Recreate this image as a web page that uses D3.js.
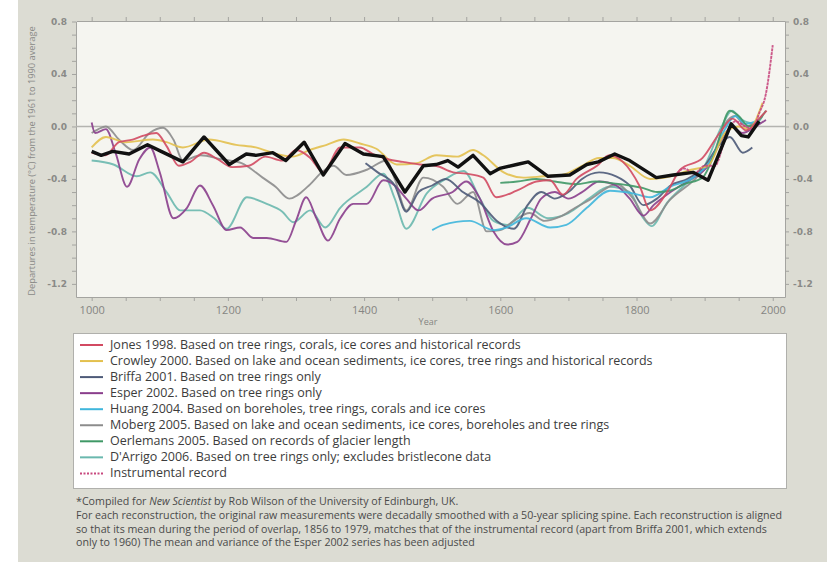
<!DOCTYPE html>
<html><head><meta charset="utf-8">
<script src="https://cdn.jsdelivr.net/npm/d3@7"></script>
<style>body{margin:0;background:#fff}svg{display:block}</style>
</head><body>
<script>
// ---------- DATA (year, departure °C) ----------
const jones = [[1000,-0.20],[1020,-0.22],[1040,-0.12],[1060,-0.10],[1076,-0.07],[1095,-0.05],[1110,-0.15],[1128,-0.30],[1145,-0.27],[1165,-0.20],[1185,-0.25],[1206,-0.31],[1231,-0.30],[1255,-0.23],[1280,-0.26],[1300,-0.18],[1321,-0.24],[1340,-0.35],[1365,-0.16],[1394,-0.16],[1413,-0.21],[1435,-0.25],[1457,-0.27],[1482,-0.29],[1505,-0.30],[1531,-0.35],[1550,-0.36],[1575,-0.39],[1594,-0.54],[1624,-0.49],[1653,-0.42],[1673,-0.41],[1692,-0.52],[1712,-0.40],[1742,-0.30],[1760,-0.22],[1780,-0.27],[1805,-0.46],[1820,-0.64],[1845,-0.50],[1864,-0.33],[1897,-0.24],[1922,-0.05],[1941,0.06],[1961,-0.03],[1980,0.06],[1991,0.12]];
const crowley = [[1000,-0.16],[1021,-0.08],[1050,-0.12],[1090,-0.10],[1110,-0.12],[1134,-0.16],[1172,-0.10],[1212,-0.14],[1241,-0.16],[1271,-0.21],[1295,-0.23],[1320,-0.18],[1345,-0.14],[1370,-0.10],[1394,-0.13],[1418,-0.17],[1448,-0.29],[1477,-0.28],[1506,-0.22],[1537,-0.23],[1560,-0.18],[1575,-0.22],[1605,-0.35],[1634,-0.39],[1663,-0.38],[1690,-0.37],[1720,-0.30],[1745,-0.24],[1765,-0.24],[1790,-0.30],[1820,-0.40],[1850,-0.38],[1880,-0.33],[1905,-0.30],[1930,-0.05],[1950,0.00],[1965,-0.02],[1985,0.18]];
const briffa = [[1402,-0.28],[1420,-0.35],[1445,-0.45],[1462,-0.65],[1480,-0.50],[1500,-0.45],[1520,-0.40],[1545,-0.50],[1570,-0.58],[1595,-0.72],[1620,-0.78],[1640,-0.60],[1660,-0.50],[1680,-0.55],[1700,-0.50],[1720,-0.40],[1745,-0.35],[1770,-0.38],[1790,-0.45],[1810,-0.60],[1830,-0.55],[1850,-0.45],[1875,-0.40],[1900,-0.30],[1920,-0.15],[1937,-0.08],[1956,-0.20],[1970,-0.16]];
const esper = [[1000,0.03],[1005,-0.05],[1021,-0.02],[1035,-0.20],[1052,-0.46],[1070,-0.25],[1086,-0.16],[1100,-0.35],[1120,-0.70],[1140,-0.62],[1159,-0.45],[1178,-0.60],[1198,-0.79],[1218,-0.77],[1237,-0.85],[1257,-0.85],[1286,-0.88],[1300,-0.72],[1315,-0.54],[1330,-0.70],[1347,-0.87],[1365,-0.70],[1384,-0.59],[1404,-0.59],[1428,-0.41],[1445,-0.45],[1462,-0.55],[1480,-0.64],[1500,-0.55],[1530,-0.50],[1550,-0.42],[1570,-0.55],[1590,-0.80],[1610,-0.90],[1625,-0.88],[1645,-0.70],[1660,-0.55],[1680,-0.50],[1700,-0.55],[1720,-0.50],[1745,-0.42],[1770,-0.45],[1790,-0.55],[1810,-0.68],[1825,-0.60],[1850,-0.50],[1880,-0.40],[1905,-0.30],[1925,-0.10],[1940,0.00],[1955,-0.05],[1975,0.00],[1990,0.05]];
const huang = [[1500,-0.79],[1516,-0.75],[1555,-0.72],[1590,-0.79],[1609,-0.77],[1638,-0.70],[1673,-0.77],[1697,-0.75],[1727,-0.62],[1761,-0.49],[1795,-0.51],[1820,-0.54],[1849,-0.46],[1883,-0.39],[1910,-0.25],[1930,-0.02],[1945,0.08],[1960,0.02],[1980,0.05]];
const moberg = [[1000,-0.05],[1010,-0.02],[1021,0.00],[1040,-0.10],[1061,-0.18],[1085,-0.05],[1105,-0.01],[1120,-0.10],[1134,-0.26],[1160,-0.22],[1190,-0.25],[1220,-0.28],[1251,-0.39],[1270,-0.46],[1290,-0.55],[1319,-0.45],[1340,-0.34],[1355,-0.30],[1374,-0.37],[1404,-0.33],[1433,-0.26],[1445,-0.40],[1462,-0.64],[1487,-0.39],[1516,-0.46],[1537,-0.59],[1560,-0.50],[1580,-0.80],[1600,-0.79],[1620,-0.72],[1643,-0.66],[1665,-0.72],[1687,-0.69],[1710,-0.62],[1731,-0.56],[1771,-0.44],[1795,-0.55],[1820,-0.74],[1849,-0.56],[1888,-0.39],[1910,-0.25],[1930,0.02],[1945,0.08],[1960,0.00],[1979,0.05]];
const oerlemans = [[1600,-0.43],[1625,-0.42],[1653,-0.40],[1680,-0.42],[1712,-0.44],[1740,-0.42],[1761,-0.43],[1790,-0.45],[1810,-0.47],[1830,-0.50],[1849,-0.49],[1870,-0.44],[1897,-0.39],[1915,-0.20],[1937,0.12],[1950,0.08],[1965,0.00],[1980,0.05],[1990,0.12]];
const darrigo = [[1000,-0.26],[1032,-0.29],[1066,-0.38],[1086,-0.35],[1110,-0.50],[1130,-0.64],[1159,-0.64],[1180,-0.70],[1198,-0.78],[1228,-0.54],[1257,-0.59],[1280,-0.65],[1296,-0.73],[1321,-0.64],[1343,-0.77],[1365,-0.62],[1404,-0.46],[1428,-0.36],[1445,-0.55],[1462,-0.78],[1492,-0.51],[1520,-0.40],[1546,-0.34],[1570,-0.55],[1590,-0.72],[1610,-0.75],[1640,-0.62],[1670,-0.70],[1700,-0.66],[1730,-0.55],[1760,-0.46],[1790,-0.50],[1810,-0.70],[1822,-0.76],[1845,-0.58],[1870,-0.45],[1900,-0.30],[1925,0.00],[1940,0.12],[1955,0.05],[1975,0.02],[1985,0.08]];
const instrumental = [[1856,-0.38],[1870,-0.32],[1885,-0.36],[1900,-0.30],[1915,-0.30],[1930,-0.10],[1945,0.04],[1960,0.00],[1970,-0.02],[1980,0.10],[1990,0.25],[2000,0.62]];
const spine = [[1000,-0.19],[1014,-0.22],[1031,-0.19],[1055,-0.21],[1082,-0.14],[1102,-0.19],[1134,-0.27],[1165,-0.08],[1202,-0.29],[1227,-0.21],[1241,-0.22],[1266,-0.20],[1285,-0.26],[1312,-0.12],[1340,-0.37],[1372,-0.13],[1399,-0.21],[1428,-0.23],[1460,-0.50],[1487,-0.30],[1506,-0.29],[1523,-0.26],[1538,-0.31],[1560,-0.22],[1585,-0.36],[1599,-0.32],[1624,-0.29],[1641,-0.27],[1670,-0.38],[1702,-0.37],[1727,-0.29],[1744,-0.27],[1768,-0.21],[1790,-0.26],[1829,-0.39],[1854,-0.37],[1883,-0.35],[1905,-0.41],[1917,-0.26],[1939,0.02],[1954,-0.07],[1964,-0.08],[1980,0.04]];

const legendLabels = [
  "Jones 1998. Based on tree rings, corals, ice cores and historical records",
  "Crowley 2000. Based on lake and ocean sediments, ice cores, tree rings and historical records",
  "Briffa 2001. Based on tree rings only",
  "Esper 2002. Based on tree rings only",
  "Huang 2004. Based on boreholes, tree rings, corals and ice cores",
  "Moberg 2005. Based on lake and ocean sediments, ice cores, boreholes and tree rings",
  "Oerlemans 2005. Based on records of glacier length",
  "D'Arrigo 2006. Based on tree rings only; excludes bristlecone data",
  "Instrumental record"
];
const xTickYears = d3.range(1000, 2001, 50);
const xLabelYears = [1000, 1200, 1400, 1600, 1800, 2000];
const yTickValues = d3.range(-12, 9, 1).map(d => d / 10);
const yLabelValues = [-1.2, -0.8, -0.4, 0.0, 0.4, 0.8];
const yTitle = "Departures in temperature (°C) from the 1961 to 1990 average";
const xTitle = "Year";

// ---------- STYLE ----------
const seriesData = [jones, crowley, briffa, esper, huang, moberg, oerlemans, darrigo, instrumental];
const seriesColors = ["#d24a62", "#e3c04e", "#4d5a78", "#8a3e8c", "#3fb6dc", "#8c8c8c", "#3f9866", "#6ab8ae", "#c8487e"];
const drawOrder = [7, 5, 3, 2, 4, 6, 1, 0, 8];

const W = 827, H = 562;
const svg = d3.select("body").append("svg").attr("width", W).attr("height", H);
svg.append("rect").attr("x", 18).attr("y", 0).attr("width", W - 18).attr("height", H).attr("fill", "#dcdcd3");

const P = {l: 76, r: 785, t: 21, b: 297};
const x = d3.scaleLinear().domain([977, 2018]).range([P.l, P.r]);
const y = d3.scaleLinear().domain([-1.3, 0.8]).range([P.b, 21.5]);

svg.append("rect").attr("x", P.l).attr("y", P.t).attr("width", P.r - P.l).attr("height", P.b - P.t).attr("fill", "#f5f5f0");

const fmtY = d => (d < 0 ? "-" : "") + Math.abs(d).toFixed(1);
const axisColor = "#a4a4a0";
function styleAxis(g) {
  g.select(".domain").attr("stroke", axisColor).attr("stroke-width", 1);
  g.selectAll(".tick line").attr("stroke", axisColor);
}
// bottom
const gb = svg.append("g").attr("transform", `translate(0,${P.b})`)
  .call(d3.axisBottom(x).tickValues(xTickYears).tickSize(4).tickSizeOuter(0)
    .tickFormat(d => xLabelYears.includes(d) ? d : ""));
styleAxis(gb);
gb.selectAll("text").attr("font-family", "Open Sans").attr("font-size", 11).attr("fill", "#858582").attr("dy", "0.95em");
// top
const gt = svg.append("g").attr("transform", `translate(0,${P.t})`)
  .call(d3.axisTop(x).tickValues(xTickYears).tickSize(4).tickSizeOuter(0).tickFormat(""));
styleAxis(gt);
// left
const gl = svg.append("g").attr("transform", `translate(${P.l},0)`)
  .call(d3.axisLeft(y).tickValues(yTickValues).tickSize(4).tickSizeOuter(0)
    .tickFormat(d => yLabelValues.some(v => Math.abs(v - d) < 1e-9) ? fmtY(d) : ""));
styleAxis(gl);
gl.selectAll("text").attr("font-family", "DejaVu Sans").attr("font-weight", "bold").attr("font-size", 9).attr("fill", "#8a8a87").attr("x", -9);
// right
const gr = svg.append("g").attr("transform", `translate(${P.r},0)`)
  .call(d3.axisRight(y).tickValues(yTickValues).tickSize(4).tickSizeOuter(0)
    .tickFormat(d => yLabelValues.some(v => Math.abs(v - d) < 1e-9) ? fmtY(d) : ""));
styleAxis(gr);
gr.selectAll("text").attr("font-family", "DejaVu Sans").attr("font-weight", "bold").attr("font-size", 9).attr("fill", "#8a8a87").attr("x", 8);

// zero line
svg.append("line").attr("x1", P.l).attr("x2", P.r).attr("y1", y(0)).attr("y2", y(0))
  .attr("stroke", "#b4b4b0").attr("stroke-width", 1.6);

// titles
const yt = svg.append("text").attr("transform", `translate(35,${(P.t + P.b) / 2 + 2}) rotate(-90)`)
  .attr("text-anchor", "middle").attr("font-family", "Open Sans").attr("font-size", 8.3)
  .attr("fill", "#8a8a87").text(yTitle);
yt.attr("font-size", 8.3 * 270 / yt.node().getComputedTextLength());
svg.append("text").attr("x", 428).attr("y", 325).attr("text-anchor", "middle")
  .attr("font-family", "Open Sans").attr("font-size", 9).attr("fill", "#858582").text(xTitle);

// series
const lineSmooth = d3.line().x(d => x(d[0])).y(d => y(d[1])).curve(d3.curveMonotoneX);
const lineLinear = d3.line().x(d => x(d[0])).y(d => y(d[1])).curve(d3.curveLinear);
const gs = svg.append("g");
drawOrder.forEach(i => {
  gs.append("path").attr("d", lineSmooth(seriesData[i])).attr("fill", "none")
    .attr("stroke", seriesColors[i]).attr("stroke-width", 1.9)
    .attr("stroke-dasharray", i === 8 ? "3,0.8" : null)
    .attr("stroke-linejoin", "round").attr("opacity", 0.9);
});
gs.append("path").attr("d", lineLinear(spine)).attr("fill", "none")
  .attr("stroke", "#111").attr("stroke-width", 3.4).attr("stroke-linejoin", "round");

// legend
svg.append("rect").attr("x", 73.5).attr("y", 333.5).attr("width", 713).attr("height", 155)
  .attr("fill", "#ffffff").attr("stroke", "#b0b0ac").attr("stroke-width", 1);
const gLeg = svg.append("g");
legendLabels.forEach((lab, i) => {
  const cy = 345 + i * 16.05;
  gLeg.append("line").attr("x1", 80).attr("x2", 103).attr("y1", cy).attr("y2", cy)
    .attr("stroke", seriesColors[i]).attr("stroke-width", 2)
    .attr("stroke-dasharray", i === 8 ? "2,1.5" : null);
  gLeg.append("text").attr("class", "leg").attr("x", 110).attr("y", cy + 4)
    .attr("font-family", "Open Sans").attr("font-size", 11).attr("fill", "#3c3c3c").text(lab);
});
const firstLeg = gLeg.select("text.leg").node();
const wLeg = firstLeg.getComputedTextLength();
gLeg.selectAll("text.leg").attr("font-size", 11 * 411 / wLeg);

// footnote
const foot = svg.append("g").attr("font-family", "Open Sans").attr("fill", "#4a4a4a").attr("font-size", 9);
const f1 = foot.append("text").attr("x", 76).attr("y", 505);
f1.append("tspan").text("*Compiled for ");
f1.append("tspan").attr("font-style", "italic").text("New Scientist");
f1.append("tspan").text(" by Rob Wilson of the University of Edinburgh, UK.");
const footLines = [
  "For each reconstruction, the original raw measurements were decadally smoothed with a 50-year splicing spine. Each reconstruction is aligned",
  "so that its mean during the period of overlap, 1856 to 1979, matches that of the instrumental record (apart from Briffa 2001, which extends",
  "only to 1960) The mean and variance of the Esper 2002 series has been adjusted"
];
const fl = footLines.map((t, i) => foot.append("text").attr("x", 76).attr("y", 519 + i * 13.5).text(t));
const wF = fl[0].node().getComputedTextLength();
foot.attr("font-size", 9 * 707 / wF);
</script>
</body></html>
